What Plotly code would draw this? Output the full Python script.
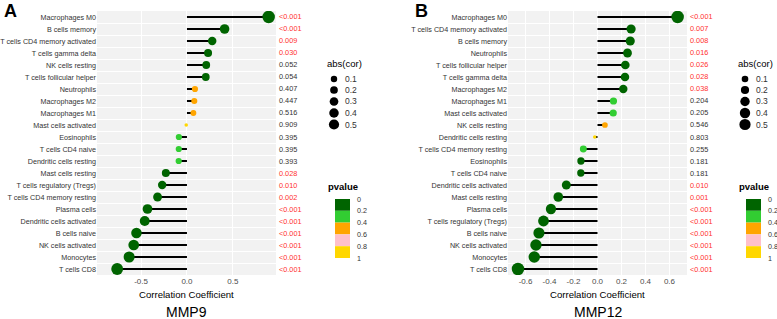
import math
import plotly.graph_objects as go

W, H = 777, 319

# ---------------- data ----------------
mmp9_cells = ["Macrophages M0", "B cells memory", "T cells CD4 memory activated", "T cells gamma delta",
              "NK cells resting", "T cells follicular helper", "Neutrophils", "Macrophages M2",
              "Macrophages M1", "Mast cells activated", "Eosinophils", "T cells CD4 naive",
              "Dendritic cells resting", "Mast cells resting", "T cells regulatory (Tregs)",
              "T cells CD4 memory resting", "Plasma cells", "Dendritic cells activated", "B cells naive",
              "NK cells activated", "Monocytes", "T cells CD8"]
mmp9_cor = [0.89, 0.41, 0.275, 0.23, 0.21, 0.205, 0.087, 0.08, 0.07, -0.008, -0.088, -0.089,
            -0.090, -0.23, -0.27, -0.32, -0.43, -0.46, -0.55, -0.58, -0.63, -0.76]
mmp9_p = ["<0.001", "<0.001", "0.009", "0.030", "0.052", "0.054", "0.407", "0.447", "0.516", "0.909",
          "0.395", "0.395", "0.393", "0.028", "0.010", "0.002", "<0.001", "<0.001", "<0.001",
          "<0.001", "<0.001", "<0.001"]

mmp12_cells = ["Macrophages M0", "T cells CD4 memory activated", "B cells memory", "Neutrophils",
               "T cells follicular helper", "T cells gamma delta", "Macrophages M2", "Macrophages M1",
               "Mast cells activated", "NK cells resting", "Dendritic cells resting",
               "T cells CD4 memory resting", "Eosinophils", "T cells CD4 naive",
               "Dendritic cells activated", "Mast cells resting", "Plasma cells",
               "T cells regulatory (Tregs)", "B cells naive", "NK cells activated", "Monocytes",
               "T cells CD8"]
mmp12_cor = [0.668, 0.28, 0.273, 0.25, 0.232, 0.229, 0.215, 0.133, 0.131, 0.062, -0.023, -0.118,
             -0.138, -0.139, -0.26, -0.327, -0.388, -0.45, -0.488, -0.513, -0.527, -0.663]
mmp12_p = ["<0.001", "0.007", "0.008", "0.016", "0.026", "0.028", "0.038", "0.204", "0.205", "0.546",
           "0.803", "0.255", "0.181", "0.181", "0.010", "0.001", "<0.001", "<0.001", "<0.001",
           "<0.001", "<0.001", "<0.001"]

mmp9_ticks = [-0.5, 0.0, 0.5]
mmp12_ticks = [-0.6, -0.4, -0.2, 0.0, 0.2, 0.4, 0.6]
size_breaks = [0.1, 0.2, 0.3, 0.4, 0.5]
p_breaks = [0, 0.2, 0.4, 0.6, 0.8, 1]
p_colors = ["#006400", "#32CD32", "#FFA500", "#FFC0CB", "#FFD700"]

FONT = "Liberation Sans, Arial, sans-serif"


def px_x(px):
    return px / W


def px_y(py):
    return 1 - py / H


def p_num(s):
    return 0.0 if s.startswith("<") else float(s)


def p_color(p):
    for i in range(len(p_colors)):
        if p < p_breaks[i + 1]:
            return p_colors[i]
    return p_colors[-1]


def size_fn(v, vmin, vmax):
    t = (abs(v) - vmin) / (vmax - vmin)
    t = min(max(t, 0.0), 1.0)
    return 3.5 + 9.0 * math.sqrt(t)


fig = go.Figure()
shapes = []
annotations = []

panels = [
    dict(cells=mmp9_cells, cor=mmp9_cor, p=mmp9_p, ticks=mmp9_ticks, rng=[-0.98, 0.97],
         xa="x", ya="y", ox=0, title="MMP9", letter="A"),
    dict(cells=mmp12_cells, cor=mmp12_cor, p=mmp12_p, ticks=mmp12_ticks, rng=[-0.746, 0.746],
         xa="x2", ya="y2", ox=411, title="MMP12", letter="B"),
]

layout_axes = {}
for k, pn in enumerate(panels):
    n = len(pn["cells"])
    idx = list(range(n))
    absv = [abs(v) for v in pn["cor"]]
    vmin, vmax = min(absv), max(absv)
    ox = pn["ox"]

    # segments
    sx, sy = [], []
    for i, v in zip(idx, pn["cor"]):
        sx += [0, v, None]
        sy += [i, i, None]
    fig.add_trace(go.Scatter(x=sx, y=sy, mode="lines", line=dict(color="black", width=2),
                             xaxis=pn["xa"], yaxis=pn["ya"], showlegend=False, hoverinfo="skip"))
    # points
    fig.add_trace(go.Scatter(
        x=pn["cor"], y=idx, mode="markers",
        marker=dict(size=[size_fn(v, vmin, vmax) for v in pn["cor"]],
                    color=[p_color(p_num(s)) for s in pn["p"]], line=dict(width=0), opacity=1),
        xaxis=pn["xa"], yaxis=pn["ya"], showlegend=False,
        text=pn["cells"], hovertemplate="%{text}: %{x}<extra></extra>"))

    # p-value labels
    for i, s in zip(idx, pn["p"]):
        annotations.append(dict(
            text=s, xref=pn["xa"] + " domain", x=1, xanchor="left", xshift=1,
            yref=pn["ya"], y=i, yanchor="middle", showarrow=False,
            font=dict(family=FONT, size=7.3, color="#FF3030" if p_num(s) < 0.05 else "#333333")))

    xdom = [px_x(97 + ox), px_x(276 + ox)]
    ydom = [px_y(275), px_y(11)]
    xname = "xaxis" if k == 0 else "xaxis2"
    yname = "yaxis" if k == 0 else "yaxis2"
    layout_axes[xname] = dict(
        domain=xdom, anchor=pn["ya"], range=pn["rng"], tickmode="array", tickvals=pn["ticks"],
        ticktext=[f"{t:.1f}" for t in pn["ticks"]], showgrid=True, gridcolor="white", gridwidth=1,
        zeroline=False, showline=False, ticks="", tickfont=dict(family=FONT, size=8, color="#4D4D4D"),
        fixedrange=True)
    layout_axes[yname] = dict(
        domain=ydom, anchor=pn["xa"], range=[n - 0.5, -0.5], tickmode="array", tickvals=idx,
        ticktext=pn["cells"], showgrid=False, zeroline=False, showline=False, ticks="",
        tickfont=dict(family=FONT, size=7.2, color="#333333"),
        minor=dict(tickmode="array", tickvals=[i + 0.5 for i in range(n - 1)], showgrid=True,
                   gridcolor="white", gridwidth=1),
        fixedrange=True)

    # panel background
    shapes.append(dict(type="rect", xref=pn["xa"] + " domain", yref=pn["ya"] + " domain",
                       x0=0, x1=1, y0=0, y1=1, fillcolor="#F2F2F2", line=dict(width=0), layer="below"))

    # axis title and panel title
    annotations.append(dict(text="Correlation Coefficient", xref=pn["xa"] + " domain", x=0.5,
                            yref="paper", y=px_y(294), yanchor="middle", showarrow=False,
                            font=dict(family=FONT, size=9.6, color="black")))
    annotations.append(dict(text=pn["title"], xref=pn["xa"] + " domain", x=0.5,
                            yref="paper", y=px_y(311.5), yanchor="middle", showarrow=False,
                            font=dict(family=FONT, size=14, color="black")))
    annotations.append(dict(text="<b>" + pn["letter"] + "</b>", xref="paper", x=px_x(2 + ox),
                            xanchor="left", yref="paper", y=px_y(11), yanchor="middle",
                            showarrow=False, font=dict(family=FONT, size=18, color="black")))

    # size legend
    annotations.append(dict(text="abs(cor)", xref="paper", x=px_x(325 + ox), xanchor="left",
                            yref="paper", y=px_y(63), yanchor="middle", showarrow=False,
                            font=dict(family=FONT, size=9.5, color="black")))
    key_y = [79, 90, 101.5, 113, 124.5]
    for b, ky in zip(size_breaks, key_y):
        r = size_fn(b, vmin, vmax) / 2
        shapes.append(dict(type="circle", xref="paper", yref="paper", xsizemode="pixel",
                           ysizemode="pixel", xanchor=px_x(334 + ox), yanchor=px_y(ky),
                           x0=-r, x1=r, y0=-r, y1=r, fillcolor="black", line=dict(width=0)))
        annotations.append(dict(text=f"{b:.1f}", xref="paper", x=px_x(342.5 + ox), xanchor="left",
                                yref="paper", y=px_y(ky), yanchor="middle", showarrow=False,
                                font=dict(family=FONT, size=8.5, color="#333333")))

    # p-value legend
    annotations.append(dict(text="<b>pvalue</b>", xref="paper", x=px_x(326 + ox), xanchor="left",
                            yref="paper", y=px_y(186), yanchor="middle", showarrow=False,
                            font=dict(family=FONT, size=9.5, color="black")))
    top, step = 199.0, 11.8
    for j, c in enumerate(p_colors):
        shapes.append(dict(type="rect", xref="paper", yref="paper", x0=px_x(335 + ox),
                           x1=px_x(350 + ox), y0=px_y(top + step * (j + 1)), y1=px_y(top + step * j),
                           fillcolor=c, line=dict(width=0)))
    for j, b in enumerate(p_breaks):
        annotations.append(dict(text=f"{b:g}", xref="paper", x=px_x(355 + ox), xanchor="left",
                                yref="paper", y=px_y(top + step * j), yanchor="middle",
                                showarrow=False, font=dict(family=FONT, size=7.2, color="#333333")))

fig.update_layout(
    width=W, height=H, margin=dict(l=0, r=0, t=0, b=0), paper_bgcolor="white",
    plot_bgcolor="rgba(0,0,0,0)", shapes=shapes, annotations=annotations,
    font=dict(family=FONT), showlegend=False, **layout_axes)

fig.write_html("out.html", config={"displayModeBar": False},
               post_script="document.body.style.margin='0';document.body.style.overflow='hidden';")
